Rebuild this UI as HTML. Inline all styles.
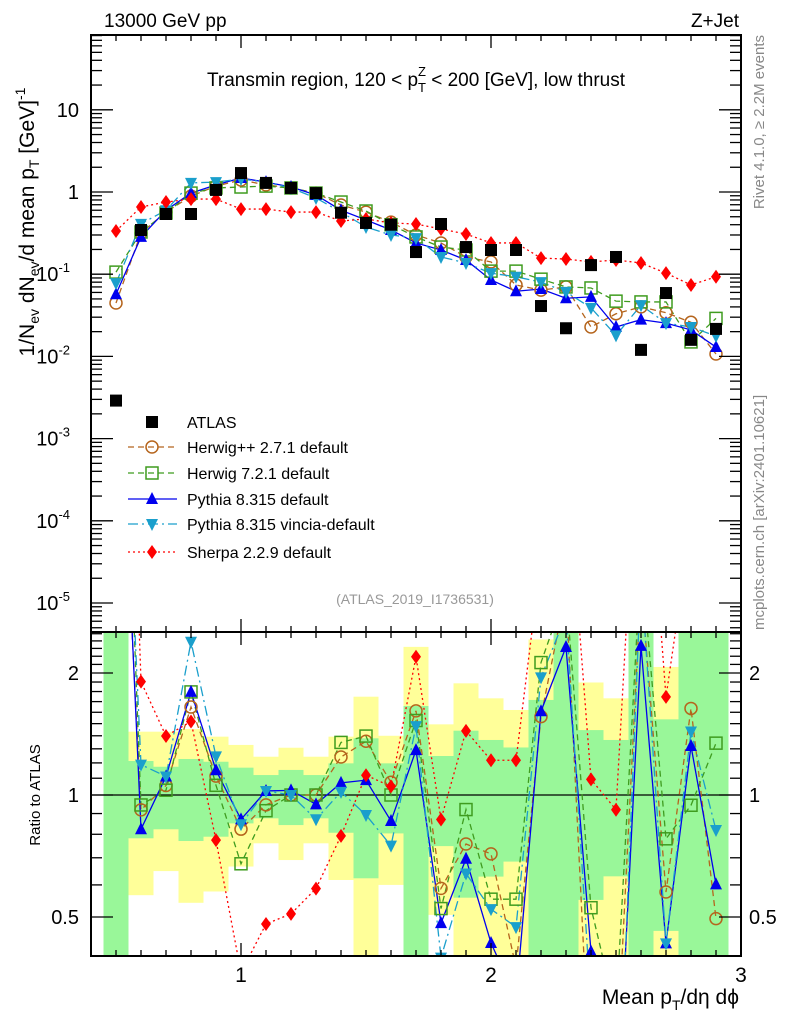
<!DOCTYPE html>
<html><head><meta charset="utf-8"><style>
html,body{margin:0;padding:0;background:#fff;width:786px;height:1024px;overflow:hidden;}
svg{display:block;font-family:"Liberation Sans",sans-serif;}
</style></head><body>
<svg id="chart" width="786" height="1024" viewBox="0 0 786 1024" xmlns="http://www.w3.org/2000/svg">
<defs>
<clipPath id="clipMain"><rect x="91" y="35" width="650" height="597"/></clipPath>
<clipPath id="clipRatio"><rect x="91" y="632" width="650" height="324"/></clipPath>
</defs>
<g id="bands" clip-path="url(#clipRatio)"></g>
<g id="marksMain" clip-path="url(#clipMain)"></g>
<g id="marksRatio" clip-path="url(#clipRatio)"></g>
<g id="axes"></g>
<text x="104" y="27" font-size="19">13000 GeV pp</text>
<text x="739" y="27" font-size="19" text-anchor="end">Z+Jet</text>
<text x="416" y="86" font-size="19" text-anchor="middle">Transmin region, 120 &lt; p<tspan font-size="13" dy="6">T</tspan><tspan font-size="13" dx="-8" dy="-16">Z</tspan><tspan dy="10"> &lt; 200 [GeV], low thrust</tspan></text>
<text transform="translate(34,222) rotate(-90)" font-size="21" text-anchor="middle">1/N<tspan font-size="14" dy="5">ev</tspan><tspan dy="-5"> dN</tspan><tspan font-size="14" dy="5">ev</tspan><tspan dy="-5">/d mean p</tspan><tspan font-size="14" dy="5">T</tspan><tspan dy="-5"> [GeV]</tspan><tspan font-size="14" dy="-9">-1</tspan></text>
<text transform="translate(764,35) rotate(-90)" font-size="15" fill="#888" text-anchor="end">Rivet 4.1.0, ≥ 2.2M events</text>
<text transform="translate(764,630) rotate(-90)" font-size="15" fill="#888">mcplots.cern.ch [arXiv:2401.10621]</text>
<text x="415" y="604" font-size="14" fill="#999" text-anchor="middle">(ATLAS_2019_I1736531)</text>
<text transform="translate(40,795) rotate(-90)" font-size="15" text-anchor="middle">Ratio to ATLAS</text>
<text x="739" y="1004" font-size="21" text-anchor="end">Mean p<tspan font-size="14" dy="6">T</tspan><tspan dy="-6">/dη dϕ</tspan></text>
<g id="legend"></g>
</svg>
<script>
const xCenters = [0.5,0.6,0.7,0.8,0.9,1.0,1.1,1.2,1.3,1.4,1.5,1.6,1.7,1.8,1.9,2.0,2.1,2.2,2.3,2.4,2.5,2.6,2.7,2.8,2.9];
const atlas   = [0.0029,0.345,0.54,0.54,1.06,1.70,1.29,1.12,0.97,0.56,0.42,0.40,0.186,0.408,0.214,0.197,0.197,0.041,0.022,0.129,0.162,0.012,0.059,0.0159,0.0216];
const herwigpp= [0.0446,0.317,0.57,0.89,1.18,1.40,1.22,1.12,0.97,0.695,0.57,0.43,0.30,0.24,0.162,0.141,0.074,0.064,0.070,0.0228,0.033,0.040,0.034,0.026,0.0107];
const herwig7 = [0.106,0.326,0.555,0.97,1.12,1.15,1.18,1.12,0.97,0.755,0.587,0.40,0.284,0.214,0.197,0.109,0.109,0.087,0.070,0.068,0.047,0.046,0.046,0.015,0.029];
const pythia  = [0.057,0.284,0.60,0.97,1.22,1.48,1.32,1.15,0.92,0.60,0.457,0.345,0.24,0.197,0.149,0.085,0.062,0.066,0.051,0.053,0.0228,0.028,0.0254,0.021,0.0130];
const vincia  = [0.078,0.41,0.60,1.29,1.32,1.44,1.32,1.12,0.845,0.57,0.375,0.30,0.275,0.162,0.137,0.103,0.093,0.080,0.061,0.039,0.018,0.042,0.0254,0.0228,0.0177];
const sherpa  = [0.335,0.657,0.755,0.82,0.82,0.62,0.62,0.57,0.57,0.444,0.47,0.42,0.408,0.355,0.308,0.24,0.24,0.157,0.153,0.141,0.149,0.137,0.103,0.074,0.093];
const yellowLo= [0.1,0.566,0.649,0.542,0.578,0.666,0.760,0.691,0.760,0.617,0.1,0.600,0.1,0.506,0.1,0.1,0.1,0.1,0.1,0.1,0.1,0.1,0.1,0.1,0.1];
const yellowHi= [10,1.433,1.433,1.455,1.393,1.329,1.243,1.308,1.243,1.393,1.748,1.40,2.32,1.494,1.886,1.732,1.621,2.42,10,1.895,1.732,10,2.07,10,10];
const greenLo = [0.1,0.782,0.823,0.770,0.789,0.851,0.876,0.843,0.876,0.807,0.623,0.804,0.1,0.748,0.558,0.629,0.685,0.1,0.1,0.551,0.630,0.1,0.462,0.1,0.1];
const greenHi = [10,1.213,1.174,1.227,1.208,1.168,1.120,1.153,1.120,1.197,1.380,1.197,1.658,1.248,1.441,1.367,1.31,1.716,10,1.446,1.367,10,1.537,10,10];
const mainTickLabels = ["10","1","10","10","10","10","10"];
const mainTickExps = [1,0,-1,-2,-3,-4,-5];
const ratioTicks = [0.5,1,2];
const xTicks = [1,2,3];
const binWidth = 0.1;

const NS="http://www.w3.org/2000/svg";
const X0=91,X1=741,XMIN=0.4,XMAX=3.0;
const sx=v=>X0+(v-XMIN)/(XMAX-XMIN)*(X1-X0);
const MT=35,MB=632; const sy=v=>192-Math.log10(v)*82.2;
const RT=632,RB=956; const sr=v=>795-Math.log2(v)*122;
function el(tag,attrs,parent){const e=document.createElementNS(NS,tag);for(const k in attrs)e.setAttribute(k,attrs[k]);parent.appendChild(e);return e;}

const bands=document.getElementById('bands');
xCenters.forEach((c,i)=>{
  const x=sx(c-binWidth/2),w=sx(c+binWidth/2)-x;
  const y=el('rect',{x:x,y:sr(yellowHi[i]),width:w,height:sr(yellowLo[i])-sr(yellowHi[i]),fill:'#ffff99'},bands);
  
  
  const g=el('rect',{x:x,y:sr(greenHi[i]),width:w,height:sr(greenLo[i])-sr(greenHi[i]),fill:'#99f799'},bands);
  
  
});
el('line',{x1:X0,x2:X1,y1:sr(1),y2:sr(1),stroke:'#000','stroke-width':1.3},document.getElementById('marksRatio'));

const series=[
 {name:'herwigpp',data:herwigpp,color:'#b5651d',dash:'6,4',marker:'circle',label:'Herwig++ 2.7.1 default'},
 {name:'herwig7',data:herwig7,color:'#3f9c1f',dash:'6,4',marker:'square',label:'Herwig 7.2.1 default'},
 {name:'pythia',data:pythia,color:'#0000ee',dash:'',marker:'tri',label:'Pythia 8.315 default'},
 {name:'vincia',data:vincia,color:'#1a9fcc',dash:'10,4,2,4',marker:'itri',label:'Pythia 8.315 vincia-default'},
 {name:'sherpa',data:sherpa,color:'#ff0000',dash:'2,3',marker:'diamond',label:'Sherpa 2.2.9 default'}
];
function marker(type,x,y,color,parent,name){
  let m;
  if(type==='circle') m=el('circle',{cx:x,cy:y,r:6,fill:'none',stroke:color,'stroke-width':1.5},parent);
  else if(type==='square') m=el('rect',{x:x-6,y:y-6,width:12,height:12,fill:'none',stroke:color,'stroke-width':1.5},parent);
  else if(type==='tri') m=el('polygon',{points:`${x},${y-7} ${x-6},${y+5} ${x+6},${y+5}`,fill:color},parent);
  else if(type==='itri') m=el('polygon',{points:`${x},${y+7} ${x-6},${y-5} ${x+6},${y-5}`,fill:color},parent);
  else if(type==='diamond') m=el('polygon',{points:`${x},${y-7} ${x-5},${y} ${x},${y+7} ${x+5},${y}`,fill:color},parent);
  else m=el('rect',{x:x-6,y:y-6,width:12,height:12,fill:color},parent);
  
  
}
const mm=document.getElementById('marksMain'), mr=document.getElementById('marksRatio');
series.forEach(s=>{
  const pts=xCenters.map((c,i)=>`${sx(c)},${sy(s.data[i])}`).join(' ');
  const l=el('polyline',{points:pts,fill:'none',stroke:s.color,'stroke-width':1.3,'stroke-dasharray':s.dash},mm);
  
  
  const rpts=xCenters.map((c,i)=>`${sx(c)},${sr(s.data[i]/atlas[i])}`).join(' ');
  const rl=el('polyline',{points:rpts,fill:'none',stroke:s.color,'stroke-width':1.3,'stroke-dasharray':s.dash},mr);
  
  
});
series.forEach(s=>{
  xCenters.forEach((c,i)=>{
    marker(s.marker,sx(c),sy(s.data[i]),s.color,mm,s.name+'-point');
    marker(s.marker,sx(c),sr(s.data[i]/atlas[i]),s.color,mr,s.name+'-ratio-point');
  });
});
xCenters.forEach((c,i)=>marker('sq',sx(c),sy(atlas[i]),'#000',mm,'atlas-point'));

const ax=document.getElementById('axes');
const S={stroke:'#000','stroke-width':1.3};
el('rect',{x:X0,y:MT,width:X1-X0,height:MB-MT,fill:'none',stroke:'#000','stroke-width':2},ax);
el('rect',{x:X0,y:RT,width:X1-X0,height:RB-RT,fill:'none',stroke:'#000','stroke-width':2},ax);
for(let k=5;k<30;k++){const v=k/10;const x=sx(v);const major=(k%10===0);const L=major?13:6;
  [[MT,MT+L],[MB,MB-L],[RT,RT+L],[RB,RB-L]].forEach(p=>el('line',Object.assign({x1:x,x2:x,y1:p[0],y2:p[1]},S),ax));}
xTicks.forEach(t=>{const tl=el('text',{x:sx(t),y:982,'font-size':21,'text-anchor':'middle'},ax);tl.textContent=String(t);
  
  });
for(let e=-6;e<=1;e++){for(let m=1;m<10;m++){const v=m*Math.pow(10,e);const y=sy(v);if(y<MT||y>MB)continue;const L=m===1?22:11;
  el('line',Object.assign({x1:X0,x2:X0+L,y1:y,y2:y},S),ax);el('line',Object.assign({x1:X1,x2:X1-L,y1:y,y2:y},S),ax);}}
mainTickExps.forEach((e,i)=>{const y=sy(Math.pow(10,e));
  const t=el('text',{x:e>=0?79:70,y:y+7,'font-size':20,'text-anchor':'end'},ax);t.textContent=mainTickLabels[i];
  
  
  if(e<0){const s=el('tspan',{'font-size':13,dy:-9},t);s.textContent=String(e);}});
for(let v=0.4;v<=2.5;v=Math.round((v+0.1)*10)/10){const y=sr(v);if(y<RT||y>RB)continue;const major=ratioTicks.includes(v);const L=major?22:11;
  el('line',Object.assign({x1:X0,x2:X0+L,y1:y,y2:y},S),ax);el('line',Object.assign({x1:X1,x2:X1-L,y1:y,y2:y},S),ax);}
ratioTicks.forEach(v=>{const y=sr(v);
  const a=el('text',{x:79,y:y+7,'font-size':20,'text-anchor':'end'},ax);a.textContent=String(v);
  
  
  const b=el('text',{x:749,y:y+7,'font-size':20},ax);b.textContent=String(v);
  
  });
const lg=document.getElementById('legend');
const rows=[{label:'ATLAS',marker:'sq',color:'#000',dash:null,name:'atlas'}].concat(series);
const rowY=[422,447,473,499,524,552];
rows.forEach((s,i)=>{const y=rowY[i];
  const g=el('g',{},lg);
  
  
  if(s.dash!==null){el('line',{x1:128,x2:177,y1:y,y2:y,stroke:s.color,'stroke-width':1.3,'stroke-dasharray':s.dash},g);}
  marker(s.marker,152,y,s.color,g,'legend-marker');
  const t=el('text',{x:187,y:y+6,'font-size':16},g);t.textContent=s.label;});
</script>
</body></html>
